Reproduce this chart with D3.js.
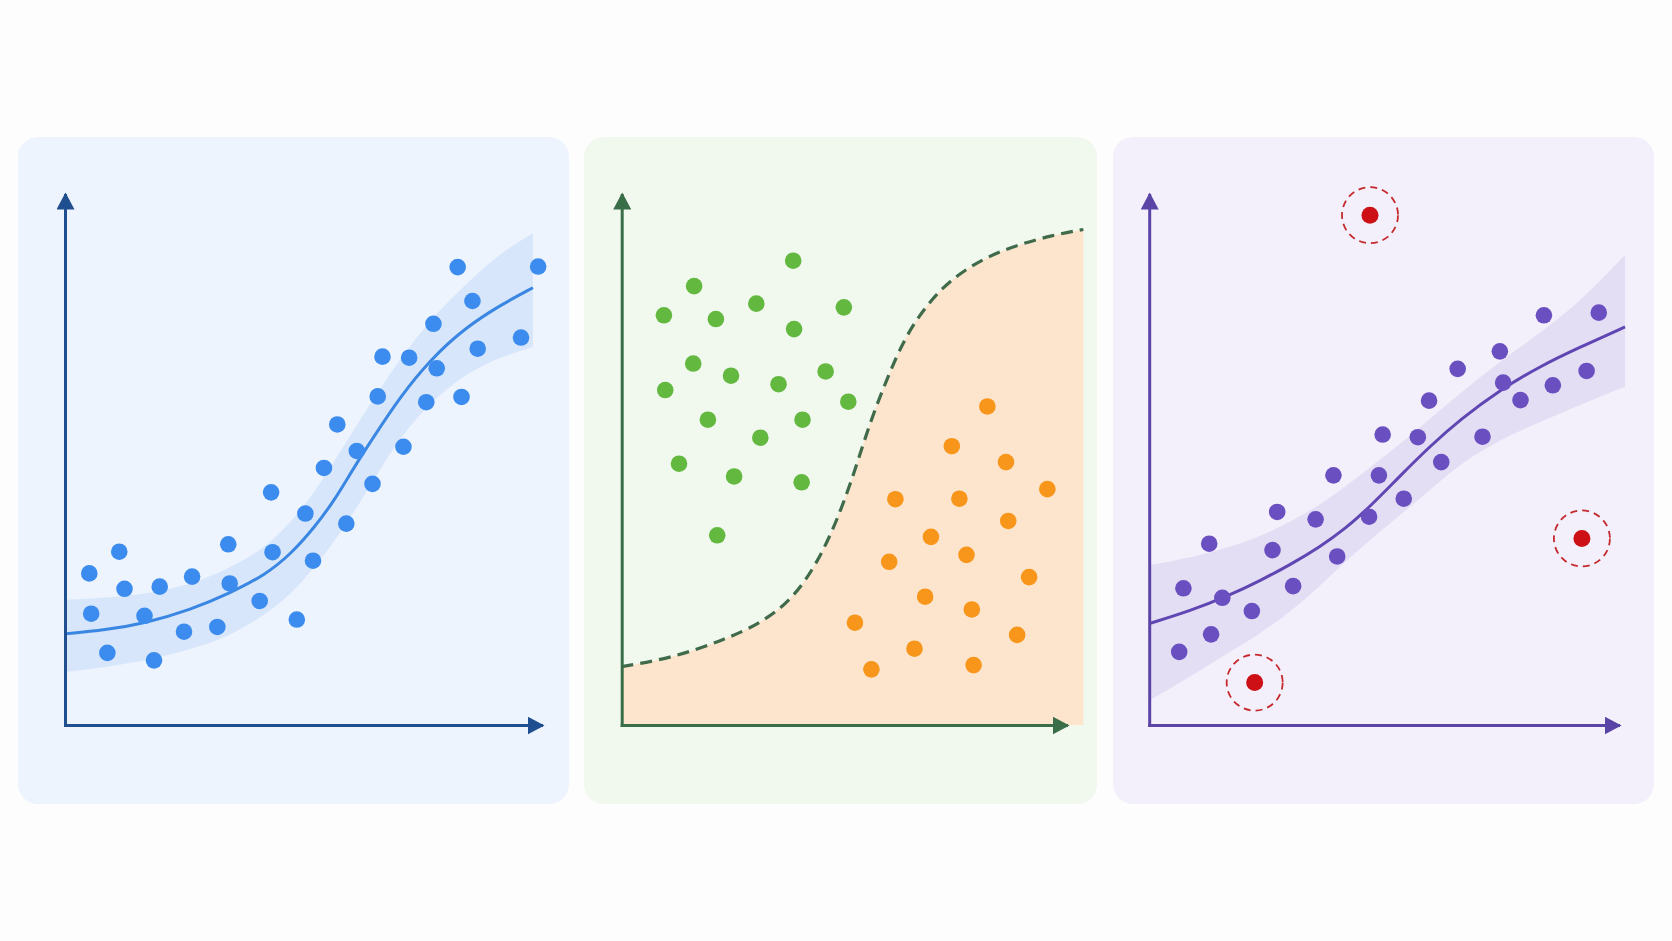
<!DOCTYPE html>
<html>
<head>
<meta charset="utf-8">
<script src="https://cdn.jsdelivr.net/npm/d3@7"></script>
<style>
  body { margin: 0; background: #fdfdfe; }
  svg { display: block; }
</style>
</head>
<body>
<svg id="chart"></svg>
<script>
/* DATA (axis units 0-100, no ticks shown) */

// panel 1 - scatter with smooth trend and confidence band
const trendX     = [0, 8.4, 16.8, 26.3, 34.7, 42.0, 47.3, 52.5, 56.7, 60.9, 65.1, 70.4, 76.7, 84.0, 91.4, 98.3];
const trendFit   = [17.2, 17.9, 19.2, 21.7, 24.9, 28.3, 32.1, 37.4, 42.5, 48.9, 54.7, 61.9, 68.9, 74.9, 79.2, 82.5];
const trendUpper = [23.6, 24.0, 24.7, 26.4, 29.6, 33.4, 38.1, 44.0, 50.0, 56.0, 62.0, 69.0, 76.5, 83.0, 89.1, 92.8];
const trendLower = [10.0, 10.9, 12.1, 14.2, 16.8, 20.8, 24.5, 29.8, 34.8, 40.4, 46.6, 54.3, 60.8, 66.2, 69.4, 71.3];
const scatterX = [82.5, 99.4, 85.6, 77.4, 86.7, 95.8, 66.7, 72.3, 78.1, 65.7, 75.9, 83.3, 57.2, 61.3, 71.1, 54.4, 64.6, 43.3, 50.5,
  59.1, 34.3, 43.6, 52.1, 11.4, 5.1, 12.5, 19.9, 26.7, 34.6, 40.9, 5.5, 16.7, 48.7, 25.0, 32.0, 8.9, 18.7];
const scatterY = [86.4, 86.5, 80.0, 75.7, 71.0, 73.1, 69.5, 69.3, 67.3, 62.0, 60.9, 61.9, 56.7, 51.7, 52.5, 48.5, 45.5, 43.9, 39.9,
  38.0, 34.1, 32.6, 31.0, 32.7, 28.6, 25.7, 26.1, 28.0, 26.7, 23.4, 21.0, 20.6, 19.9, 17.6, 18.5, 13.6, 12.2];

// panel 2 - two classes split by a decision boundary
const boundaryX = [0, 11.6, 23.2, 31.8, 38.7, 44.2, 48.8, 52.7, 55.8, 59.7, 63.6, 68.2, 73.6, 81.4, 89.1, 96.9, 103.9];
const boundaryY = [11.0, 12.7, 16.1, 19.4, 24.0, 30.8, 39.2, 48.5, 56.9, 65.3, 72.9, 78.8, 83.8, 88.1, 90.6, 92.4, 93.5];
const groupAX = [38.6, 16.3, 9.5, 21.2, 30.3, 50.0, 38.8, 16.1, 24.6, 35.3, 45.9, 9.8, 51.0, 19.4, 40.7, 31.2, 12.9, 25.3, 40.5, 21.5];
const groupAY = [87.6, 82.8, 77.3, 76.6, 79.5, 78.8, 74.7, 68.2, 65.9, 64.3, 66.7, 63.2, 61.0, 57.6, 57.6, 54.2, 49.3, 46.9, 45.8, 35.8];
const groupBX = [82.3, 74.3, 86.5, 95.8, 61.6, 76.0, 87.0, 69.6, 77.6, 60.2, 91.7, 68.3, 78.8, 52.5, 89.0, 65.9, 56.2, 79.2];
const groupBY = [60.1, 52.6, 49.6, 44.5, 42.6, 42.7, 38.5, 35.5, 32.1, 30.8, 27.9, 24.2, 21.8, 19.3, 17.0, 14.4, 10.5, 11.3];

// panel 3 - robust fit with flagged outliers
const robustX     = [0.2, 8.7, 17.2, 23.6, 30.0, 36.4, 41.8, 47.1, 53.5, 59.9, 66.3, 74.8, 83.4, 91.9, 101.5];
const robustFit   = [19.2, 21.5, 24.5, 27.2, 30.2, 33.6, 37.0, 41.2, 47.0, 52.6, 57.6, 63.2, 67.7, 71.3, 75.1];
const robustUpper = [30.2, 31.5, 33.6, 35.5, 38.3, 41.5, 45.0, 48.6, 53.0, 57.8, 62.6, 68.6, 74.0, 79.8, 88.7];
const robustLower = [4.7, 9.1, 13.8, 17.2, 21.3, 26.2, 30.8, 34.9, 39.6, 44.3, 49.3, 53.8, 57.2, 60.4, 63.8];
const robustPtX = [84.2, 95.9, 74.8, 65.8, 75.5, 86.1, 93.3, 79.2, 59.7, 49.8, 57.3, 71.1, 39.3, 49.0, 62.3, 54.3, 27.3, 35.5,
  46.9, 12.8, 26.3, 40.1, 7.3, 15.6, 30.7, 21.9, 13.2, 6.4];
const robustPtY = [77.3, 77.8, 70.5, 67.2, 64.6, 64.1, 66.8, 61.3, 61.2, 54.8, 54.3, 54.4, 47.1, 47.1, 49.6, 42.7, 40.2, 38.8,
  39.3, 34.2, 33.0, 31.8, 25.8, 24.0, 26.2, 21.5, 17.1, 13.8];
const outlierX = [47.1, 92.3, 22.5];
const outlierY = [96.2, 35.2, 8.0];

/* LAYOUT */
const width = 1672, height = 941;
const zip = (xs, ys) => xs.map((v, i) => [v, ys[i]]);
const smooth = d3.curveBasis;

const svg = d3.select("#chart")
  .attr("width", width)
  .attr("height", height);

svg.append("rect")
  .attr("width", width)
  .attr("height", height)
  .attr("fill", "#fdfdfe");

const defs = svg.append("defs");

// shared vertical scale, one horizontal scale per panel
const y = d3.scaleLinear().domain([0, 100]).range([725, 195]);
const x1 = d3.scaleLinear().domain([0, 100]).range([65, 541]);
const x2 = d3.scaleLinear().domain([0, 100]).range([621.7, 1066]);
const x3 = d3.scaleLinear().domain([0, 100]).range([1149.2, 1618]);

// panel cards
const cards = [
  { x: 18, y: 137, w: 551, h: 667, fill: "#eef4fd" },
  { x: 584, y: 137, w: 513, h: 667, fill: "#f1f8ee" },
  { x: 1113, y: 137, w: 541, h: 667, fill: "#f3f0fb" }
];
svg.selectAll("rect.card")
  .data(cards)
  .join("rect")
    .attr("class", "card")
    .attr("x", d => d.x)
    .attr("y", d => d.y)
    .attr("width", d => d.w)
    .attr("height", d => d.h)
    .attr("rx", 20)
    .attr("fill", d => d.fill);

// arrow axes with no ticks
function drawAxes(x, color, id) {
  defs.append("marker")
    .attr("id", id)
    .attr("markerUnits", "userSpaceOnUse")
    .attr("viewBox", "0 0 18 18")
    .attr("markerWidth", 18)
    .attr("markerHeight", 18)
    .attr("refX", 14)
    .attr("refY", 9)
    .attr("orient", "auto")
    .append("path")
      .attr("d", "M0,0L17,9L0,18Z")
      .attr("fill", color);

  const xAxis = svg.append("g")
    .attr("transform", `translate(0,${y(0)})`)
    .attr("color", color)
    .call(d3.axisBottom(x).tickValues([]).tickSizeOuter(0));
  const yAxis = svg.append("g")
    .attr("transform", `translate(${x(0)},0)`)
    .attr("color", color)
    .call(d3.axisLeft(y).tickValues([]).tickSizeOuter(0));

  [xAxis, yAxis].forEach(a => a.select(".domain")
    .attr("stroke-width", 3)
    .attr("stroke-linecap", "square")
    .attr("marker-end", `url(#${id})`));
}

/* PANEL 1 */
svg.append("path")
  .datum(trendX.map((v, i) => [v, trendUpper[i], trendLower[i]]))
  .attr("d", d3.area().x(d => x1(d[0])).y0(d => y(d[2])).y1(d => y(d[1])).curve(smooth))
  .attr("fill", "#3d8bef")
  .attr("fill-opacity", 0.13);

svg.append("path")
  .datum(zip(trendX, trendFit))
  .attr("d", d3.line().x(d => x1(d[0])).y(d => y(d[1])).curve(smooth))
  .attr("fill", "none")
  .attr("stroke", "#3a87e3")
  .attr("stroke-width", 3);

svg.append("g").selectAll("circle")
  .data(zip(scatterX, scatterY))
  .join("circle")
    .attr("cx", d => x1(d[0]))
    .attr("cy", d => y(d[1]))
    .attr("r", 8.3)
    .attr("fill", "#3b8cee");

drawAxes(x1, "#1f4f8f", "arrow-blue");

/* PANEL 2 */
const boundary = zip(boundaryX, boundaryY);
svg.append("path")
  .datum(boundary)
  .attr("d", d3.area().x(d => x2(d[0])).y0(y(0)).y1(d => y(d[1])).curve(smooth))
  .attr("fill", "#fde5cd");

svg.append("path")
  .datum(boundary)
  .attr("d", d3.line().x(d => x2(d[0])).y(d => y(d[1])).curve(smooth))
  .attr("fill", "none")
  .attr("stroke", "#3f6b4b")
  .attr("stroke-width", 3.2)
  .attr("stroke-dasharray", "12,7");

svg.append("g").selectAll("circle")
  .data(zip(groupAX, groupAY))
  .join("circle")
    .attr("cx", d => x2(d[0]))
    .attr("cy", d => y(d[1]))
    .attr("r", 8.3)
    .attr("fill", "#63b83f");

svg.append("g").selectAll("circle")
  .data(zip(groupBX, groupBY))
  .join("circle")
    .attr("cx", d => x2(d[0]))
    .attr("cy", d => y(d[1]))
    .attr("r", 8.3)
    .attr("fill", "#f7961b");

drawAxes(x2, "#3a6e48", "arrow-green");

/* PANEL 3 */
svg.append("path")
  .datum(robustX.map((v, i) => [v, robustUpper[i], robustLower[i]]))
  .attr("d", d3.area().x(d => x3(d[0])).y0(d => y(d[2])).y1(d => y(d[1])).curve(smooth))
  .attr("fill", "#7b5fd0")
  .attr("fill-opacity", 0.12);

svg.append("path")
  .datum(zip(robustX, robustFit))
  .attr("d", d3.line().x(d => x3(d[0])).y(d => y(d[1])).curve(smooth))
  .attr("fill", "none")
  .attr("stroke", "#5f46b2")
  .attr("stroke-width", 3);

svg.append("g").selectAll("circle")
  .data(zip(robustPtX, robustPtY))
  .join("circle")
    .attr("cx", d => x3(d[0]))
    .attr("cy", d => y(d[1]))
    .attr("r", 8.3)
    .attr("fill", "#6a4fc1");

const outliers = svg.append("g").selectAll("g")
  .data(zip(outlierX, outlierY))
  .join("g")
    .attr("transform", d => `translate(${x3(d[0])},${y(d[1])})`);
outliers.append("circle")
  .attr("r", 28)
  .attr("fill", "none")
  .attr("stroke", "#c42a2e")
  .attr("stroke-width", 1.8)
  .attr("stroke-dasharray", "7,5");
outliers.append("circle")
  .attr("r", 8.5)
  .attr("fill", "#cc1016");

drawAxes(x3, "#5a45a6", "arrow-purple");
</script>
</body>
</html>
